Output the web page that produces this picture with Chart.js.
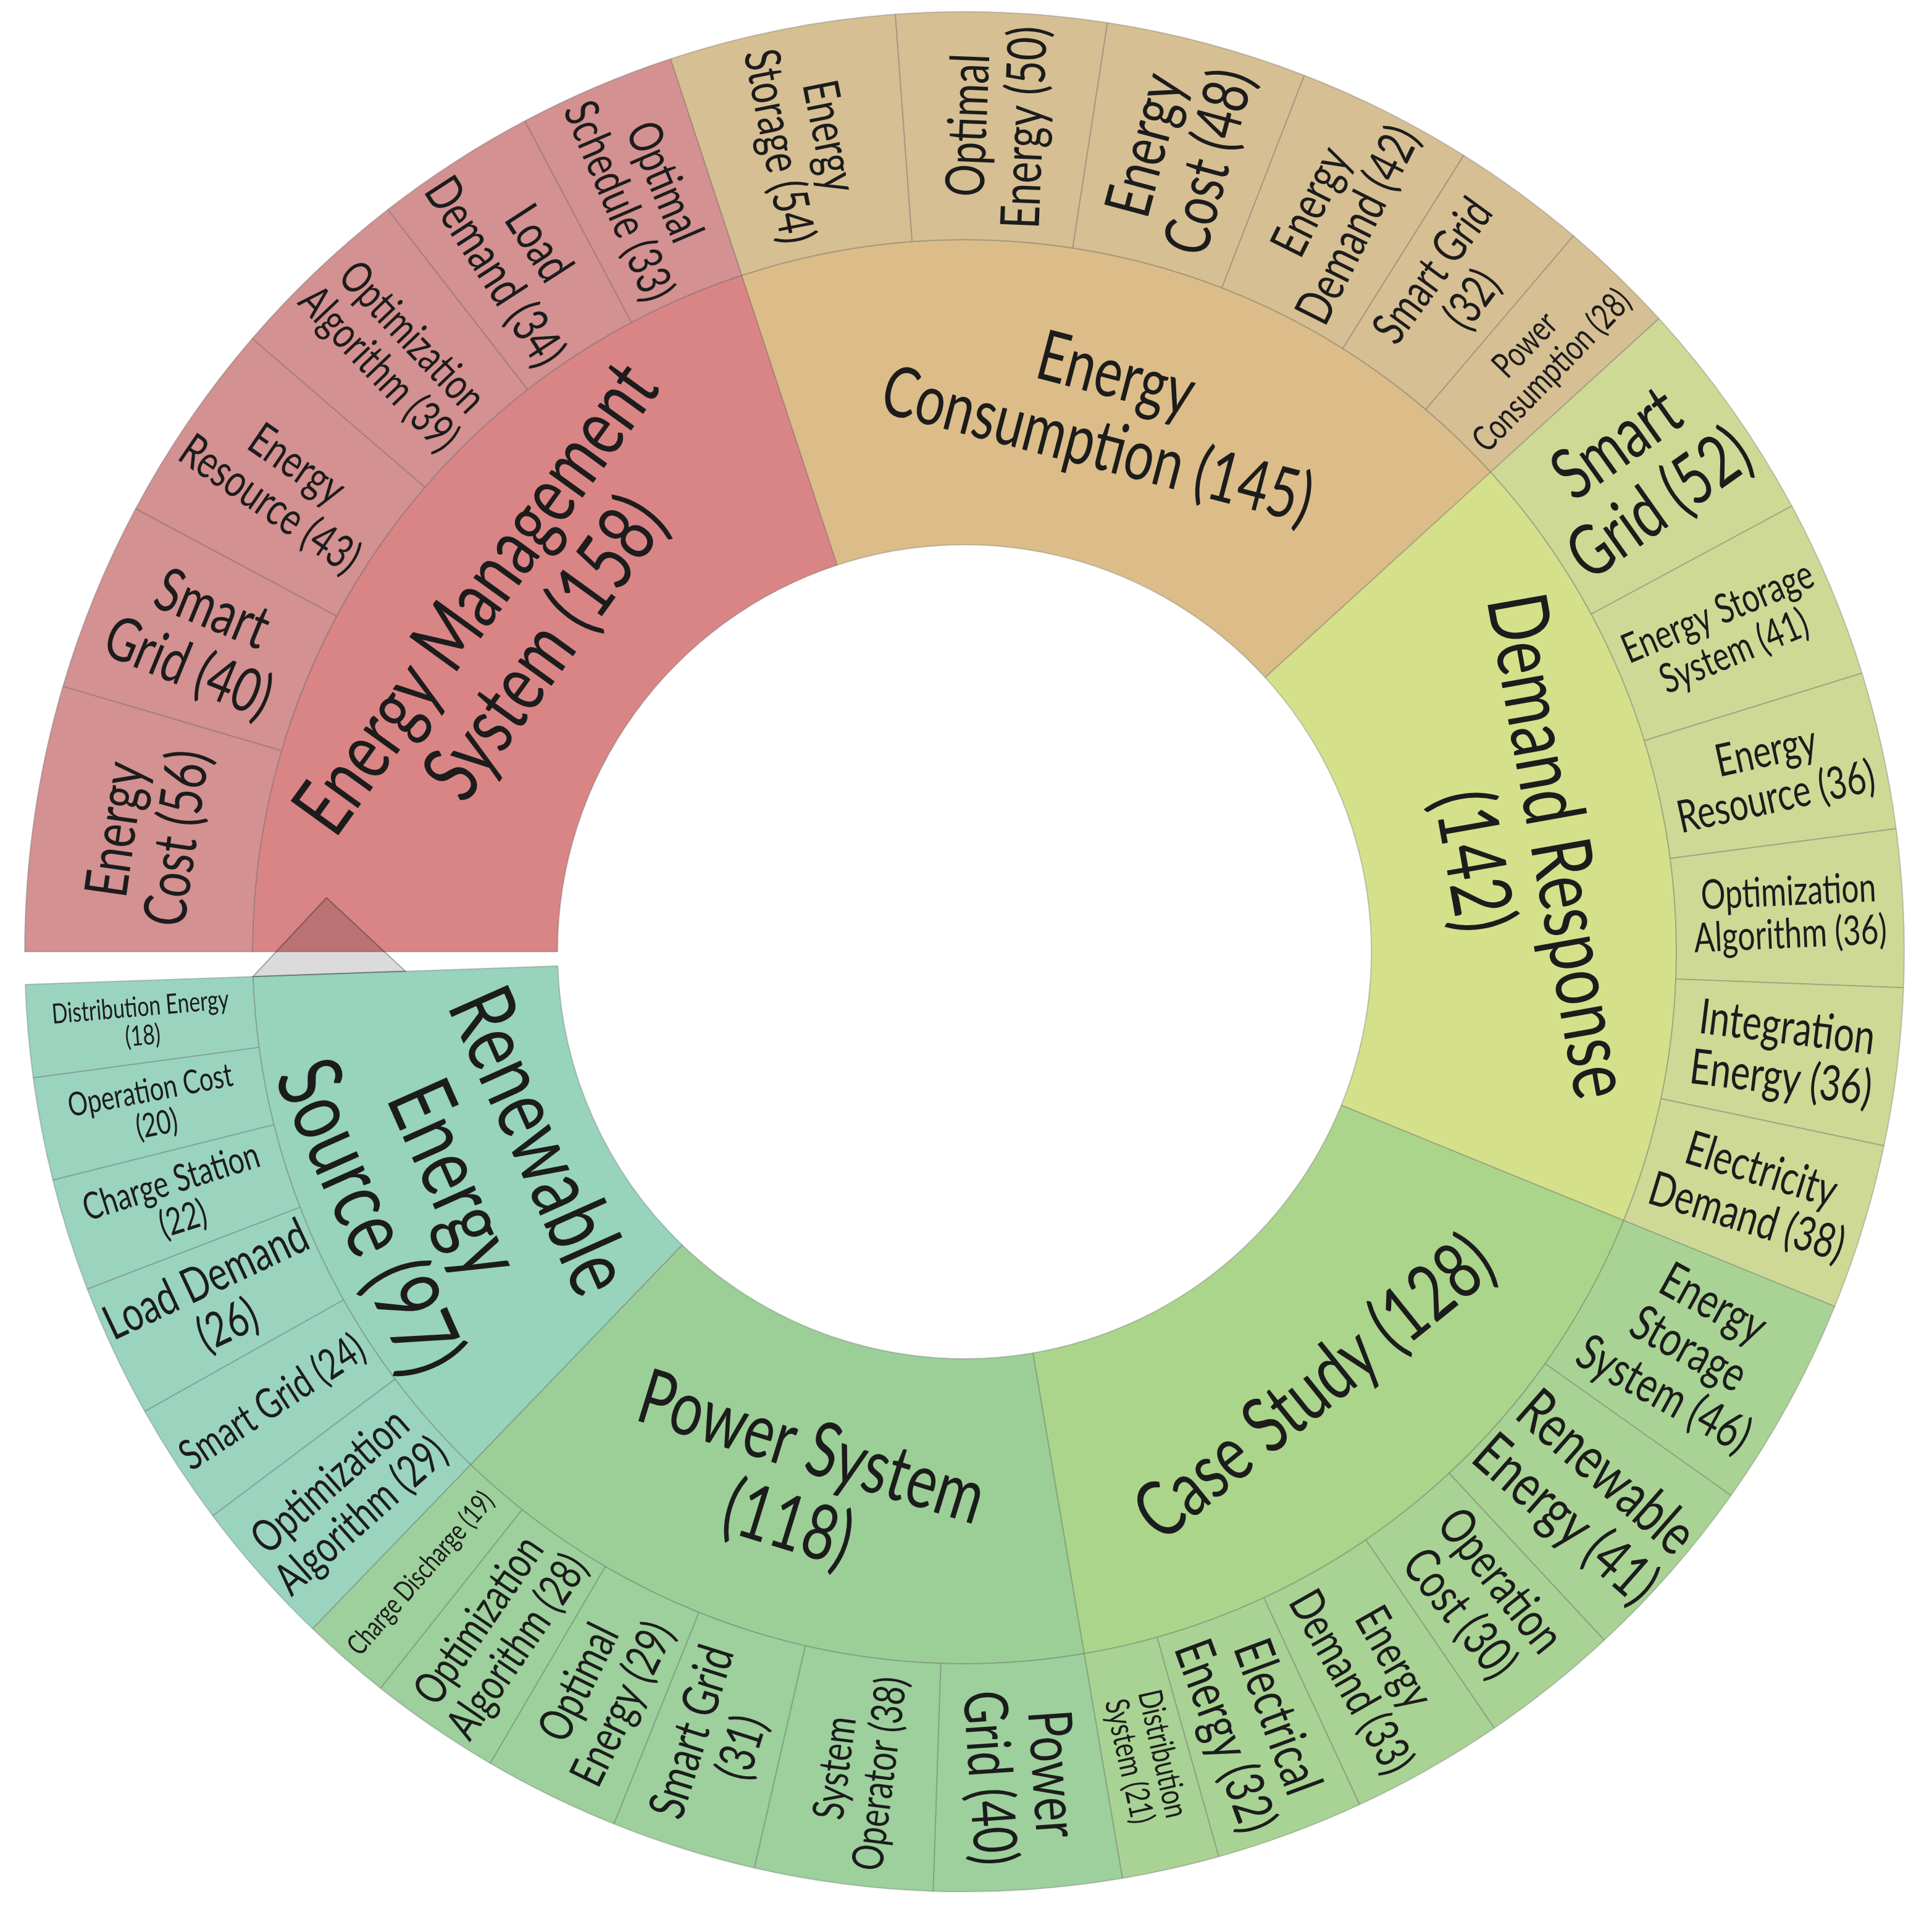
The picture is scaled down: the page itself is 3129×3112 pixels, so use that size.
<!DOCTYPE html>
<html>
<head>
<meta charset="utf-8">
<title>Sunburst - research topics</title>
<script src="https://cdn.jsdelivr.net/npm/chart.js@4.4.1/dist/chart.umd.min.js"></script>
<style>
  html, body { margin: 0; padding: 0; background: #fff; }
  #wrap { width: 3129px; height: 3112px; }
</style>
</head>
<body>
<div id="wrap"><canvas id="sun" width="3129" height="3112"></canvas></div>
<script>
///////////// DATA /////////////

// inner ring: main topics, clockwise from 9 o'clock ("\n" = line break in the label)
const topics = ['Energy Management\nSystem', 'Energy\nConsumption', 'Demand Response\n', 'Case Study', 'Power System\n', 'Renewable\nEnergy\nSource'];
const topicCounts = [158, 145, 142, 128, 118, 97];

// outer ring: keywords of each topic, clockwise
const emsTerms = ['Energy\nCost', 'Smart\nGrid', 'Energy\nResource', 'Optimization\nAlgorithm', 'Load\nDemand', 'Optimal\nSchedule'];
const emsCounts = [56, 40, 43, 39, 34, 33];

const consumptionTerms = ['Energy\nStorage', 'Optimal\nEnergy', 'Energy\nCost', 'Energy\nDemand', 'Smart Grid\n', 'Power\nConsumption'];
const consumptionCounts = [54, 50, 48, 42, 32, 28];

const demandTerms = ['Smart\nGrid', 'Energy Storage\nSystem', 'Energy\nResource', 'Optimization\nAlgorithm', 'Integration\nEnergy', 'Electricity\nDemand'];
const demandCounts = [52, 41, 36, 36, 36, 38];

const caseTerms = ['Energy\nStorage\nSystem', 'Renewable\nEnergy', 'Operation\nCost', 'Energy\nDemand', 'Electrical\nEnergy', 'Distribution\nSystem'];
const caseCounts = [46, 41, 30, 33, 32, 21];

const powerTerms = ['Power\nGrid', 'System\nOperator', 'Smart Grid\n', 'Optimal\nEnergy', 'Optimization\nAlgorithm', 'Charge Discharge'];
const powerCounts = [40, 38, 31, 29, 28, 19];

const renewableTerms = ['Optimization\nAlgorithm', 'Smart Grid', 'Load Demand\n', 'Charge Station\n', 'Operation Cost\n', 'Distribution Energy\n'];
const renewableCounts = [29, 24, 26, 22, 20, 18];

const subTerms = [emsTerms, consumptionTerms, demandTerms, caseTerms, powerTerms, renewableTerms];
const subCounts = [emsCounts, consumptionCounts, demandCounts, caseCounts, powerCounts, renewableCounts];

///////////// STYLE /////////////

const innerColors = ['#d98586', '#dcbd89', '#d5e08b', '#abd58b', '#9ccf97', '#98d3bc'];
const outerColors = ['#d39191', '#d6bf93', '#cfd996', '#a9d394', '#9dd09c', '#9ad4bf'];

const innerFontPx = [124, 106, 126, 118, 116, 136];
const outerFontPx = [
  [90, 92, 70, 67, 76, 72],
  [75, 82, 96, 76, 71, 54],
  [108, 62, 68, 62, 74, 72],
  [75, 90, 76, 72, 81, 50],
  [92, 66, 76, 71, 68, 43],
  [68, 64, 73, 57, 50, 42]
];
// outer labels written along the arc instead of along the radius: [topic, keyword]
const outerAlongArc = [[0, 0]];

const FONT = 'Lato';
const FONT_SCALE = 1.07;  // a bit taller lettering ...
const SQUEEZE = 0.75;     // ... but condensed, like the original
const LINE_H = 1.04;

///////////// BUILD RINGS /////////////

function labelLines(name, value) {
  return (name + ' (' + value + ')').split('\n').map(s => s.trim());
}

// each keyword gets its share of the parent's angle
const outerData = [], outerBg = [], outerText = [], outerSize = [], outerArc = [];
subCounts.forEach((counts, t) => {
  const sum = counts.reduce((a, b) => a + b, 0);
  counts.forEach((c, k) => {
    outerData.push(topicCounts[t] * c / sum);
    outerBg.push(outerColors[t]);
    outerText.push(labelLines(subTerms[t][k], c));
    outerSize.push(outerFontPx[t][k]);
    outerArc.push(outerAlongArc.some(p => p[0] === t && p[1] === k));
  });
});

///////////// PLUGINS /////////////

// small grey pointer sitting on the end edge of the last topic
const pointerPlugin = {
  id: 'pointer',
  afterDatasetsDraw(chart) {
    const meta = chart.getDatasetMeta(1);
    const arc = meta.data[meta.data.length - 1];
    const p = arc.getProps(['x', 'y', 'endAngle', 'innerRadius', 'outerRadius'], true);
    const e = p.endAngle;
    const r1 = (p.innerRadius + p.outerRadius) / 2, r2 = p.outerRadius;
    const h = (r2 - r1) / 2;
    const ux = Math.cos(e), uy = Math.sin(e);
    const nx = -Math.sin(e), ny = Math.cos(e);   // towards the first topic
    const rm = (r1 + r2) / 2;
    const ctx = chart.ctx;
    ctx.save();
    ctx.beginPath();
    ctx.moveTo(p.x + ux * r1, p.y + uy * r1);
    ctx.lineTo(p.x + ux * r2, p.y + uy * r2);
    ctx.lineTo(p.x + ux * rm + nx * h, p.y + uy * rm + ny * h);
    ctx.closePath();
    ctx.fillStyle = 'rgba(0,0,0,0.14)';
    ctx.fill();
    ctx.lineWidth = 2;
    ctx.strokeStyle = 'rgba(0,0,0,0.3)';
    ctx.stroke();
    ctx.restore();
  }
};

// labels: along the arc (tangential) or along the radius
const labelPlugin = {
  id: 'sunLabels',
  afterDatasetsDraw(chart) {
    const ctx = chart.ctx;
    chart.data.datasets.forEach((ds, di) => {
      const meta = chart.getDatasetMeta(di);
      meta.data.forEach((arc, i) => {
        const p = arc.getProps(['x', 'y', 'startAngle', 'endAngle', 'innerRadius', 'outerRadius'], true);
        const mid = (p.startAngle + p.endAngle) / 2;
        const r = (p.innerRadius + p.outerRadius) / 2;
        const x = p.x + Math.cos(mid) * r;
        const y = p.y + Math.sin(mid) * r;
        let rot;
        if (ds.alongArc[i]) {
          rot = Math.sin(mid) < 0 ? mid + Math.PI / 2 : mid - Math.PI / 2;
        } else {
          rot = Math.cos(mid) >= 0 ? mid : mid + Math.PI;
        }
        const lines = ds.text[i];
        const size = ds.fontPx[i] * FONT_SCALE;
        ctx.save();
        ctx.translate(x, y);
        ctx.rotate(rot);
        ctx.scale(SQUEEZE, 1);
        ctx.font = size.toFixed(1) + 'px ' + FONT;
        ctx.fillStyle = '#1c1c1c';
        ctx.textAlign = 'center';
        ctx.textBaseline = 'middle';
        lines.forEach((ln, j) => {
          ctx.fillText(ln, 0, (j - (lines.length - 1) / 2) * size * LINE_H);
        });
        ctx.restore();
      });
    });
  }
};

///////////// CHART /////////////

new Chart(document.getElementById('sun'), {
  type: 'doughnut',
  data: {
    labels: topics.map(t => t.replace(/\n/g, ' ').trim()),
    datasets: [
      {
        data: outerData,
        backgroundColor: outerBg,
        borderColor: 'rgba(90,90,90,0.3)',
        borderWidth: 2,
        weight: 369,
        text: outerText,
        fontPx: outerSize,
        alongArc: outerArc
      },
      {
        data: topicCounts,
        backgroundColor: innerColors,
        borderColor: 'rgba(90,90,90,0.3)',
        borderWidth: 2,
        weight: 494,
        text: topicCounts.map((c, i) => labelLines(topics[i], c)),
        fontPx: innerFontPx,
        alongArc: topicCounts.map(() => true)
      }
    ]
  },
  options: {
    responsive: false,
    animation: false,
    events: [],
    rotation: -90,
    circumference: 358,
    cutout: '43.3%',
    layout: { padding: { left: 39, right: 44, top: 18, bottom: 48 } },
    plugins: {
      legend: { display: false },
      tooltip: { enabled: false }
    }
  },
  plugins: [pointerPlugin, labelPlugin]
});
</script>
</body>
</html>
